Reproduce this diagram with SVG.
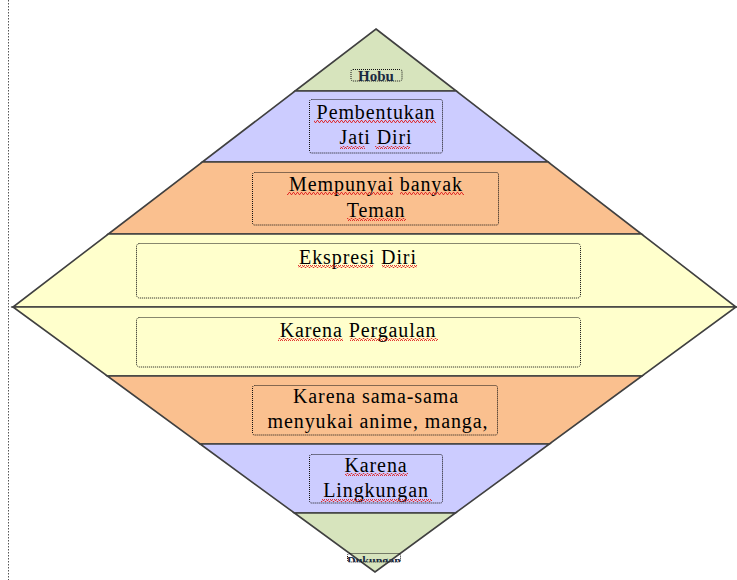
<svg xmlns="http://www.w3.org/2000/svg" width="737" height="580" viewBox="0 0 737 580">
<style>
.band{stroke:#404040;stroke-width:1.6;stroke-linejoin:miter}
.box{fill:none;stroke:#111;stroke-width:1;stroke-dasharray:1 1}
.t{font-family:"Liberation Serif","Times New Roman",serif;font-size:20px;letter-spacing:0.9px;fill:#000;text-anchor:middle}
.ts{font-family:"Liberation Serif","Times New Roman",serif;font-size:15px;font-weight:bold;fill:#1a2a40;text-anchor:middle}
.sq{fill:url(#wave)}
</style>
<defs>
<pattern id="wave" width="4" height="3" patternUnits="userSpaceOnUse">
<polyline points="0,2.5 1,0.5 2,0.5 3,2.5 4,2.5" fill="none" stroke="#e02020" stroke-width="0.9"/>
</pattern>
<clipPath id="c1"><rect x="351" y="69" width="51" height="12"/></clipPath>
<clipPath id="c2"><rect x="347" y="553" width="54" height="9"/></clipPath>
</defs>
<rect width="737" height="580" fill="#fff"/>
<line x1="8.5" y1="0" x2="8.5" y2="580" stroke="#555" stroke-width="1" stroke-dasharray="1.5 1.5"/>

<g id="hobu">
<polygon class="band" fill="#d7e4bd" points="376,29 456.3,91 295,91"/>
<rect class="box" x="351" y="69.5" width="51" height="11.5" rx="2"/>
<text class="ts" x="376" y="81" clip-path="url(#c1)">Hobu</text>
</g>
<g id="pembentukan">
<polygon class="band" fill="#ccccff" points="295,91 456.3,91 548.2,162 202.3,162"/>
<rect class="box" x="309.5" y="99.5" width="133" height="53.5" rx="2"/>
<text class="t" x="376" y="119">Pembentukan</text>
<text class="t" x="376" y="144">Jati Diri</text>
<rect class="sq" x="314" y="120" width="122" height="3"/>
<rect class="sq" x="340" y="146" width="25" height="3"/>
<rect class="sq" x="375" y="146" width="35" height="3"/>
</g>
<g id="mempunyai">
<polygon class="band" fill="#fac08f" points="202.3,162 548.2,162 641.5,234 108.3,234"/>
<rect class="box" x="252.5" y="172.5" width="246" height="52.5" rx="2"/>
<text class="t" x="376" y="191">Mempunyai banyak</text>
<text class="t" x="376" y="217">Teman</text>
<rect class="sq" x="287" y="192" width="106" height="3"/>
<rect class="sq" x="400" y="192" width="64" height="3"/>
<rect class="sq" x="347" y="218" width="59" height="3"/>
</g>
<g id="ekspresi">
<polygon class="band" fill="#ffffcc" points="108.3,234 641.5,234 736,307 13,307"/>
<rect class="box" x="136.5" y="243.5" width="444" height="54.5" rx="3"/>
<text class="t" x="358" y="264">Ekspresi Diri</text>
<rect class="sq" x="298" y="265" width="75" height="3"/>
<rect class="sq" x="382" y="265" width="35" height="3"/>
</g>
<g id="pergaulan">
<polygon class="band" fill="#ffffcc" points="13,307 736,307 642,376 107.3,376"/>
<rect class="box" x="136.5" y="317.5" width="444" height="49.5" rx="3"/>
<text class="t" x="358" y="337">Karena Pergaulan</text>
<rect class="sq" x="278" y="338" width="65" height="3"/>
<rect class="sq" x="350" y="338" width="88" height="3"/>
</g>
<g id="anime">
<polygon class="band" fill="#fac08f" points="107.3,376 642,376 549.4,444 200.1,444"/>
<rect class="box" x="252.5" y="385.5" width="245" height="49.5" rx="2"/>
<text class="t" x="376" y="403">Karena sama-sama</text>
<text class="t" x="378" y="428">menyukai anime, manga,</text>
</g>
<g id="lingkungan">
<polygon class="band" fill="#ccccff" points="200.1,444 549.4,444 455.4,513 294.4,513"/>
<rect class="box" x="309.5" y="454.5" width="133" height="48.5" rx="2"/>
<text class="t" x="376" y="472">Karena</text>
<text class="t" x="376" y="497">Lingkungan</text>
<rect class="sq" x="345" y="473" width="63" height="3"/>
<rect class="sq" x="321" y="499" width="111" height="3"/>
</g>
<g id="bawah">
<polygon class="band" fill="#d7e4bd" points="294.4,513 455.4,513 375,572"/>
<rect class="box" x="347.5" y="553.5" width="53" height="8.5" rx="2"/>
<text class="ts" x="374" y="565" style="font-size:12px" clip-path="url(#c2)">Dukungan</text>
</g>
</svg>
